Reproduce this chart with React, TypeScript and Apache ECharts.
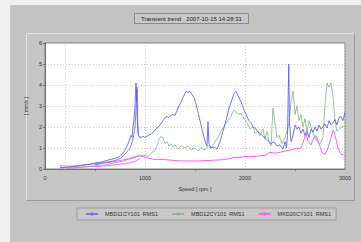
import React, { useEffect, useRef } from "react";
import * as echarts from "echarts";

const titleText = "Transient trend   2007-10-15 14:28:31";
const xAxisName = "Speed [ rpm ]";
const yAxisName = "[ mm/s ]";
const seriesNames = ["MBD11CY101  RMS1", "MBD12CY101  RMS1", "MKD20CY101  RMS1"];
const markerSpeed = 200;

const blueSpeed = [150,200,250,300,350,400,450,500,550,600,650,700,750,780,800,820,840,860,870,880,890,900,905,910,915,918,922,925,930,940,960,980,1000,1030,1060,1090,1120,1150,1180,1210,1240,1270,1300,1330,1360,1390,1410,1430,1450,1470,1490,1510,1530,1550,1570,1590,1610,1620,1630,1640,1660,1690,1720,1750,1780,1810,1840,1870,1890,1910,1930,1960,1990,2020,2040,2060,2080,2100,2130,2150,2180,2200,2230,2260,2290,2320,2350,2380,2400,2415,2425,2432,2438,2445,2460,2480,2500,2520,2540,2560,2580,2600,2620,2640,2660,2680,2700,2720,2740,2760,2780,2800,2820,2840,2860,2880,2900,2920,2940,2960,2980,3000];
const blueValue = [0.05,0.08,0.1,0.12,0.15,0.2,0.22,0.28,0.32,0.38,0.45,0.5,0.6,0.75,0.9,1.1,1.3,1.6,1.5,2.0,2.4,3.0,3.6,4.1,3.2,3.9,2.6,2.0,1.7,1.55,1.5,1.55,1.5,1.6,1.65,1.8,1.95,2.1,2.3,2.5,2.45,2.6,2.55,2.9,3.2,3.5,3.7,3.65,3.7,3.55,3.4,3.1,2.7,2.3,1.9,1.5,1.2,1.1,2.25,1.2,1.0,1.05,0.95,1.3,1.8,2.3,2.9,3.3,3.6,3.7,3.5,3.2,2.8,2.5,2.3,2.2,2.0,1.95,1.75,1.7,1.55,1.5,1.35,1.2,1.3,1.1,1.15,0.95,1.3,1.0,1.6,3.5,5.0,2.2,1.3,1.6,2.1,1.9,2.0,1.7,1.9,1.6,1.8,1.5,1.9,1.75,2.0,1.8,2.1,1.9,2.0,2.15,1.95,2.3,2.1,2.2,2.35,2.1,2.45,2.5,2.3,2.7,2.5];

const blue2Speed = [500,600,700,750,800,850,880,900,910,920,925,935,950];
const blue2Value = [0.2,0.3,0.4,0.5,0.7,1.0,1.4,2.0,2.8,3.8,2.5,1.6,1.5];

const greenSpeed = [200,300,400,500,600,700,800,850,900,950,1000,1030,1060,1100,1120,1140,1160,1180,1200,1220,1240,1260,1280,1300,1330,1360,1400,1430,1460,1500,1530,1560,1600,1630,1660,1700,1730,1760,1800,1830,1860,1880,1900,1930,1960,1990,2020,2050,2080,2100,2130,2150,2180,2200,2220,2240,2260,2280,2300,2320,2340,2370,2400,2420,2440,2460,2480,2500,2520,2540,2560,2580,2600,2620,2640,2660,2690,2720,2750,2780,2800,2820,2840,2860,2880,2900,2920,2940,2970,3000];
const greenValue = [0.02,0.05,0.1,0.15,0.2,0.3,0.4,0.5,0.6,0.6,0.65,0.6,0.75,0.9,1.1,1.4,1.55,1.5,1.2,1.3,1.1,1.2,1.05,1.15,0.95,1.1,1.0,1.1,0.9,1.0,0.85,1.0,0.9,1.1,1.0,1.3,1.5,1.8,2.1,2.3,2.5,2.75,2.8,2.6,2.65,2.4,2.2,1.9,2.0,1.7,1.8,1.6,1.9,1.4,1.8,1.3,1.1,2.9,2.2,1.5,1.6,1.2,1.5,1.8,2.2,3.2,3.7,2.6,3.0,2.3,2.6,2.0,2.4,1.8,2.3,2.0,1.6,1.3,1.2,1.5,3.0,4.1,3.9,4.1,3.5,2.3,1.8,1.9,2.0,2.05];

const magentaSpeed = [150,200,250,300,400,500,600,700,800,900,950,980,1000,1050,1100,1200,1300,1400,1500,1600,1700,1800,1900,1950,2000,2050,2100,2200,2250,2300,2350,2400,2500,2560,2590,2610,2630,2660,2690,2710,2740,2770,2800,2830,2860,2880,2900,2930,2960,3000];
const magentaValue = [0.15,0.15,0.12,0.15,0.2,0.25,0.3,0.35,0.45,0.55,0.68,0.6,0.55,0.5,0.45,0.45,0.4,0.38,0.38,0.4,0.42,0.45,0.55,0.55,0.6,0.58,0.6,0.65,0.8,0.75,0.8,0.85,0.95,1.0,1.4,1.7,1.3,1.15,1.5,1.6,1.2,0.8,0.7,1.0,1.5,1.85,1.6,1.0,0.7,0.65];

const magenta2Speed = [150,200,300,400,500,600,700,800,900,950];
const magenta2Value = [0.1,0.05,0.06,0.1,0.12,0.15,0.2,0.25,0.35,0.5];

const yTicks = [0, 1, 2, 3, 4, 5, 6];
const xTicks = [0, 1000, 2000, 3000];

const pairs = (xs: number[], ys: number[]) => xs.map((x, i) => [x, ys[i]]);

const FONT = "Liberation Sans";

export default function App() {
  const ref = useRef<HTMLDivElement>(null);
  useEffect(() => {
    const chart = echarts.init(ref.current!, null, { renderer: "svg" });
    const lineSeries = (name: string, data: number[][], color: string, extra: any = {}) => ({
      type: "line",
      name,
      data,
      showSymbol: false,
      symbol: "none",
      lineStyle: { width: 1, color, opacity: 0.85 },
      itemStyle: { color },
      z: 3,
      ...extra,
    });
    chart.setOption({
      animation: false,
      backgroundColor: "#f0f0f0",
      textStyle: { fontFamily: FONT },
      graphic: [
        { type: "rect", z: -10, shape: { x: 10, y: 5, width: 351, height: 237 }, style: { fill: "#c3c3c3" } },
        { type: "rect", z: -9, shape: { x: 26.5, y: 33.5, width: 328, height: 167 }, style: { fill: "#c6c6c6", stroke: "#9a9a9a", lineWidth: 1 } },
        { type: "polyline", z: -8, shape: { points: [[26.5, 200], [26.5, 33.5], [354, 33.5]] }, style: { stroke: "#e2e2e2", lineWidth: 1, fill: null } },
      ],
      title: {
        text: titleText,
        left: 134,
        top: 13,
        padding: [3, 7, 2, 7],
        backgroundColor: "#c8c8c8",
        borderColor: "#8a8a8a",
        borderWidth: 1,
        textStyle: { fontSize: 6, fontWeight: "normal", color: "#202020", fontFamily: FONT },
      },
      legend: {
        data: seriesNames,
        left: 77,
        top: 208,
        padding: [3, 5, 3, 8],
        itemWidth: 12,
        itemHeight: 4,
        itemGap: 13,
        backgroundColor: "#c8c8c8",
        borderColor: "#9a9a9a",
        borderWidth: 1,
        textStyle: { fontSize: 5.5, color: "#303030", fontFamily: FONT, padding: [0, 0, 0, 2] },
      },
      grid: {
        left: 45,
        top: 43,
        width: 300,
        height: 126,
        show: true,
        backgroundColor: "#ffffff",
        borderColor: "#808080",
        borderWidth: 1,
      },
      xAxis: {
        type: "value",
        min: xTicks[0],
        max: xTicks[xTicks.length - 1],
        interval: 1000,
        name: xAxisName,
        nameLocation: "middle",
        nameGap: 17,
        nameTextStyle: { fontSize: 5.5, color: "#303030", fontFamily: FONT },
        axisLine: { lineStyle: { color: "#707070" } },
        axisTick: { show: false },
        minorTick: { show: true, splitNumber: 2, length: 2, lineStyle: { color: "#707070" } },
        axisLabel: { fontSize: 5.5, color: "#303030", margin: 6, fontFamily: FONT, formatter: (v: number) => String(v) },
        splitLine: { show: true, lineStyle: { color: "#c8c8c8", type: [1, 2] } },
      },
      yAxis: {
        type: "value",
        min: yTicks[0],
        max: yTicks[yTicks.length - 1],
        interval: 1,
        name: yAxisName,
        nameLocation: "middle",
        nameRotate: 90,
        nameGap: 9,
        nameTextStyle: { fontSize: 5, color: "#303030", fontFamily: FONT },
        axisLine: { show: true, lineStyle: { color: "#707070" } },
        axisTick: { show: true, length: 2, inside: false, lineStyle: { color: "#707070" } },
        axisLabel: { fontSize: 5.5, color: "#303030", margin: 3, fontFamily: FONT },
        splitLine: { show: true, lineStyle: { color: "#c8c8c8", type: [1, 2] } },
      },
      series: [
        lineSeries(seriesNames[2], pairs(magenta2Speed, magenta2Value), "#ff55ff"),
        lineSeries(seriesNames[1], pairs(greenSpeed, greenValue), "#86b695"),
        lineSeries(seriesNames[2], pairs(magentaSpeed, magentaValue), "#ff44ff"),
        lineSeries(seriesNames[0], pairs(blue2Speed, blue2Value), "#6a6aff"),
        lineSeries(seriesNames[0], pairs(blueSpeed, blueValue), "#5a5aff", {
          markLine: {
            silent: true,
            symbol: "none",
            label: { show: false },
            lineStyle: { color: "#c8c8c8", type: [1, 2], width: 1 },
            data: [{ xAxis: markerSpeed }],
          },
        }),
      ],
    });
    return () => chart.dispose();
  }, []);
  return <div ref={ref} style={{ position: "fixed", left: 0, top: 0, width: 361, height: 242 }} />;
}
